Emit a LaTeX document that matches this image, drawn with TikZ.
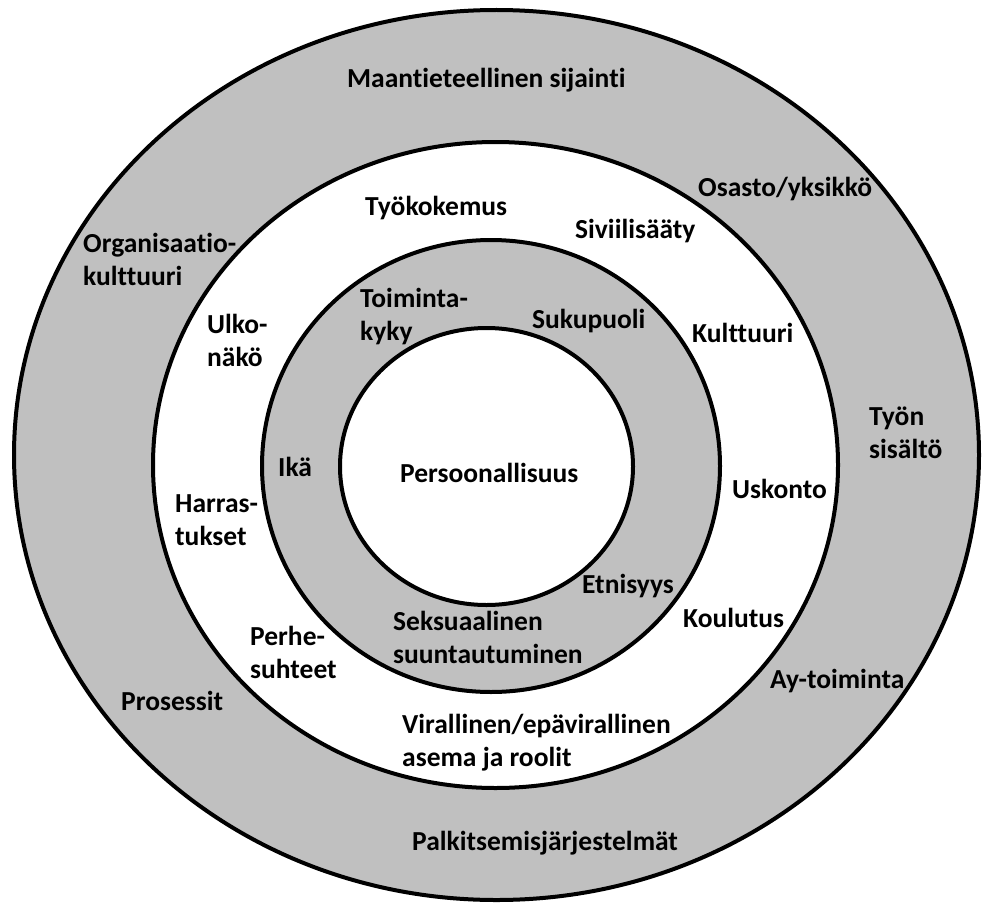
\documentclass[tikz,border=0pt]{standalone}
\usepackage{fontspec}
\setmainfont{Carlito}[BoldFont={Carlito Bold},RawFeature={-liga}]
\definecolor{ringgray}{HTML}{C0C0C0}
\begin{document}
\begin{tikzpicture}[x=1pt,y=-1pt,
  ring/.style={draw=black,line width=4pt},
  lbl/.style={font=\fontsize{27.5}{33}\selectfont\bfseries,inner sep=0pt,anchor=base west,align=left,text=black}]
\useasboundingbox (0,0) rectangle (982,907);
% rings
\path[ring,fill=ringgray] (496.5,455) ellipse [x radius=482.5,y radius=445];
\path[ring,fill=white] (495.5,465) ellipse [x radius=342.5,y radius=323];
\path[ring,fill=ringgray] (491,466) ellipse [x radius=229,y radius=226];
\path[ring,fill=white] (486.5,466.5) ellipse [x radius=146.5,y radius=138.5];
% labels (anchor = baseline of the last line)
\node[lbl] (maa) at (347,88) {Maantieteellinen sijainti};
\node[lbl] (osa) at (698,196) {Osasto/yksikkö};
\node[lbl] (tyk) at (365,215) {Työkokemus};
\node[lbl] (siv) at (575,238) {Siviilisääty};
\node[lbl] (org) at (83,285) {Organisaatio-\\kulttuuri};
\node[lbl] (ulk) at (207,366) {Ulko-\\näkö};
\node[lbl] (toi) at (360,340) {Toiminta-\\kyky};
\node[lbl] (suk) at (532,328) {Sukupuoli};
\node[lbl] (kul) at (692,342) {Kulttuuri};
\node[lbl] (tys) at (869,458) {Työn\\sisältö};
\node[lbl] (ika) at (278,476) {Ikä};
\node[lbl] (per) at (400,482) {Persoonallisuus};
\node[lbl] (usk) at (732,498) {Uskonto};
\node[lbl] (har) at (175,545) {Harras-\\tukset};
\node[lbl] (etn) at (582,593) {Etnisyys};
\node[lbl] (kou) at (683,627) {Koulutus};
\node[lbl] (sek) at (393,663) {Seksuaalinen\\suuntautuminen};
\node[lbl] (phs) at (250,678) {Perhe-\\suhteet};
\node[lbl] (ayt) at (770,688) {Ay-toiminta};
\node[lbl] (pro) at (121,710) {Prosessit};
\node[lbl] (vir) at (402,766) {Virallinen/epävirallinen\\asema ja roolit};
\node[lbl] (pal) at (412,850) {Palkitsemisjärjestelmät};
\end{tikzpicture}
\end{document}
